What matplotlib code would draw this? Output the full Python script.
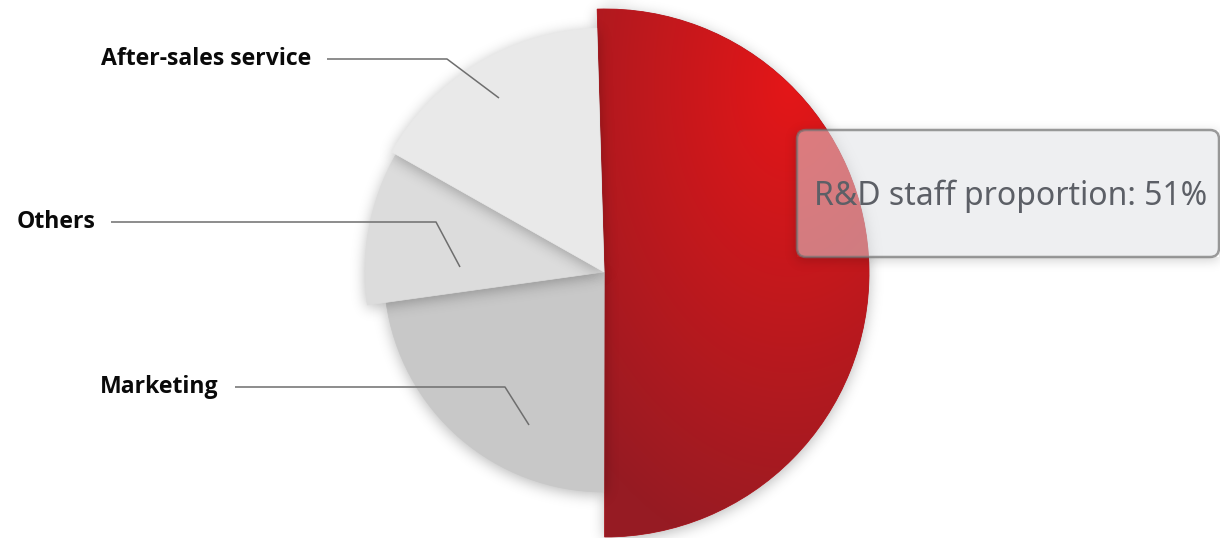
import numpy as np
import matplotlib
matplotlib.use("Agg")
import matplotlib.pyplot as plt
from matplotlib.patches import Wedge, FancyBboxPatch

# data (draw order, clockwise from the top)
names = ["R&D", "Marketing", "Others", "After-sales service"]
values = [51, 23, 10.5, 16.5]
tooltip_text = "R&D staff proportion: 51%"

# styling / layout
W, H = 1220, 538
colors = [None, "#c8c8c8", "#dcdcdc", "#e9e9e9"]
radii = [264, 220, 239, 244]
centers = [(605, 273), (604, 272), (604, 272), (604, 272)]   # pixel coords (y down)
start_angle = 91.7

# label layout: text right edge, line y, elbow x, end point (pixel coords)
label_layout = {
    "After-sales service": (311, 59, 447, (499, 98)),
    "Others": (95, 222, 436, (460, 267)),
    "Marketing": (219, 387, 505, (529, 425)),
}

plt.rcParams['font.family'] = ['Noto Sans', 'DejaVu Sans']

fig = plt.figure(figsize=(W / 100, H / 100), dpi=100)
ax = fig.add_axes([0, 0, 1, 1])
ax.set_xlim(0, W)
ax.set_ylim(0, H)
ax.axis("off")

# pixel grid (y up)
xx, yy = np.meshgrid(np.arange(W) + 0.5, H - (np.arange(H) + 0.5))


def blur(a, sigma):
    k = np.arange(-3 * sigma, 3 * sigma + 1)
    g = np.exp(-k ** 2 / (2.0 * sigma ** 2))
    g /= g.sum()
    p = len(k) // 2
    out = np.zeros_like(a)
    ap = np.pad(a, ((0, 0), (p, p)))
    for i, w in enumerate(g):
        out += w * ap[:, i:i + a.shape[1]]
    out2 = np.zeros_like(a)
    ap = np.pad(out, ((p, p), (0, 0)))
    for i, w in enumerate(g):
        out2 += w * ap[i:i + a.shape[0], :]
    return out2


def wedge_mask(cx, cy, r, t1, span):
    dx = xx - cx
    dy = yy - cy
    ang = np.degrees(np.arctan2(dy, dx))
    inside = ((ang - t1) % 360 <= span) & (np.hypot(dx, dy) <= r)
    return inside.astype(float)


def draw_shadow(mask, z, alpha=0.28, sigma=7, off=3, hole=None):
    m = np.roll(mask, off, axis=0)
    s = np.clip(blur(m, sigma), 0, 1)
    if hole is not None:
        s = s * (1 - hole)
    img = np.zeros((H, W, 4))
    img[..., 3] = s * alpha
    ax.imshow(img, extent=(0, W, 0, H), origin="upper", zorder=z,
              interpolation="bilinear")


total = float(sum(values))
cum = 0.0
for i, (name, v) in enumerate(zip(names, values)):
    span = v / total * 360.0
    t2 = start_angle - cum / total * 360.0
    t1 = t2 - span
    cum += v
    cx, cy = centers[i]
    cy_up = H - cy
    z = 2 + i * 2
    draw_shadow(wedge_mask(cx, cy_up, radii[i], t1, span), z)
    if colors[i] is None:
        # red radial gradient
        gx, gy = 790, H - 85
        d = np.hypot((xx - gx), (yy - gy) / 1.6) / 300.0
        t = np.clip(d, 0, 1)[..., None]
        c0 = np.array([228, 22, 24]) / 255.0
        c1 = np.array([150, 27, 35]) / 255.0
        grad = c0 * (1 - t) + c1 * t
        base = Wedge((cx, cy_up), radii[i], t1, t2, facecolor="#b41a22",
                     edgecolor="#b41a22", linewidth=0.6, zorder=z + 1)
        ax.add_patch(base)
        im = ax.imshow(grad, extent=(0, W, 0, H), origin="upper",
                       zorder=z + 1, interpolation="bilinear")
        clip = Wedge((cx, cy_up), radii[i], t1, t2, transform=ax.transData)
        im.set_clip_path(clip)
    else:
        ax.add_patch(Wedge((cx, cy_up), radii[i], t1, t2, facecolor=colors[i],
                           edgecolor=colors[i], linewidth=0.5, zorder=z + 1))

# labels with leader lines
for name, (tx, ly, ex, (px, py)) in label_layout.items():
    ax.plot([tx + 16, ex, px], [H - ly, H - ly, H - py], color="#6e6e6e",
            lw=1.1, zorder=20, solid_capstyle="butt")
    ax.text(tx, H - ly, name, ha="right", va="center", fontsize=16.6,
            fontweight="bold", color="#0a0a0a", zorder=21,
            family=["Open Sans", "DejaVu Sans"])

# tooltip
bx0, by0, bx1, by1 = 797, 130, 1219, 257
tmask = ((xx >= bx0) & (xx <= bx1) & (yy >= H - by1) & (yy <= H - by0)).astype(float)
draw_shadow(tmask, 22, alpha=0.2, sigma=6, off=3, hole=tmask)
box = FancyBboxPatch((bx0, H - by1), bx1 - bx0, by1 - by0,
                     boxstyle="round,pad=0,rounding_size=9",
                     facecolor=(222 / 255, 224 / 255, 228 / 255, 0.5),
                     edgecolor=(0.45, 0.45, 0.45, 0.7), linewidth=1.8, zorder=23)
ax.add_patch(box)
ax.text(1011, H - 205, tooltip_text, ha="center", va="baseline", fontsize=23,
        color="#5c5f66", zorder=24)

fig.savefig("out.png", dpi=100)
